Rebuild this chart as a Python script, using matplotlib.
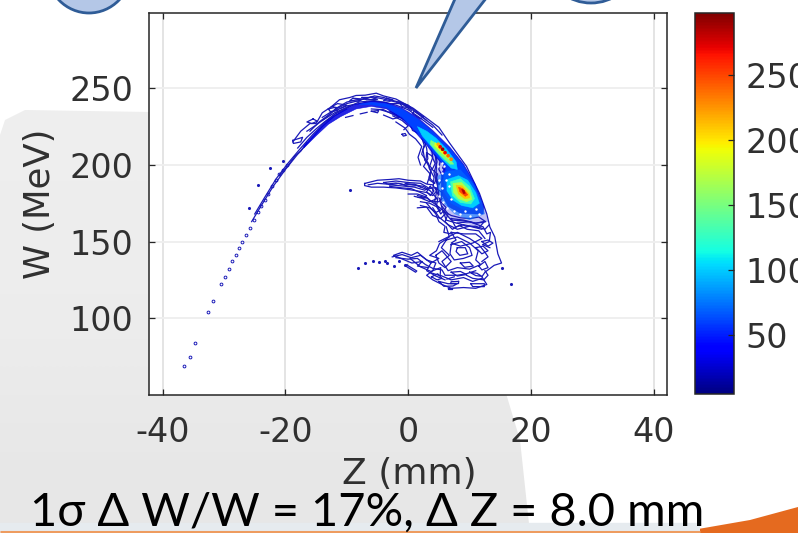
#!/usr/bin/env python3
# -*- coding: utf-8 -*-
import matplotlib
matplotlib.use('Agg')
import numpy as np
import matplotlib.pyplot as plt
from matplotlib.patches import Ellipse, Polygon
from matplotlib.colors import Normalize
from matplotlib.cm import ScalarMappable

W_PX, H_PX = 798, 533
C_MIN, C_MAX = 5, 298

x_ticks = [-40, -20, 0, 20, 40]
y_ticks = [100, 150, 200, 250]
c_ticks = [50, 100, 150, 200, 250]

# isolated particles
tail_z = [-36.5, -35.5, -34.7, -32.6, -31.8, -30.5, -29.9, -29.2, -28.7, -28.1, -27.6, -27.0,
          -26.4, -25.8, -25.1, -24.5, -24.0, -23.4, -22.8, -22.2, -21.6, -21.0, -20.4, -19.8]
tail_w = [69, 75, 84, 104, 111, 122, 127, 132, 137, 141, 146, 150,
          154, 159, 164, 169, 173, 177, 181, 186, 190, 194, 197, 200]
stray_z = [-9.4, 16.8, -8.2, -7.0, -5.7, -4.7, -3.7, -3.5, -2.3, -1.5, -0.5, -20.4, -22.5, -24.5, -26.0, 15.3]
stray_w = [183.5, 122.5, 133, 136, 137, 136.5, 137.5, 136, 134, 137, 134.5, 202.6, 198, 187, 172, 133]
ridge_dots_z = [4.9, 5.2, 5.6, 6.0, 6.5, 7.0]
ridge_dots_w = [213.5, 211.8, 210.2, 208, 206, 203.7]
ridge_dots_c = [220, 270, 290, 270, 240, 230]
speck_z = [5.5, 5.0, 5.5, 5.0, 5.7, 6.3, 7.5, 8.5, 10.0, 11.5, 4.8, 5.5, 6.2, 6.6, 7.0, 9.2, 11.0, 5.9, 6.7]
speck_w = [195, 190, 185, 180, 176, 172, 170, 168, 166.5, 168, 199, 201, 190, 186, 178, 170, 171, 199, 194]

# filled contours of the dense part: (level, outline)
halo_30 = [(2, 226), (4, 221), (6.8, 211), (9, 200.5), (10.9, 187.5), (12.5, 172), (13, 163), (11, 160), (8, 163),
           (6, 167), (5, 176), (4.6, 190), (4.3, 200), (3.6, 208), (2.5, 218)]
halo_75 = [(4.8, 193), (6.5, 196), (8.5, 197), (10.5, 188), (12, 176), (12.5, 168), (10, 164), (7.5, 168), (5.5, 176),
           (4.8, 185)]
band_30 = [(-17, 212.5), (-15, 221.5), (-13, 229.5), (-11, 234.5), (-8.5, 239.5), (-6, 241.5), (-3.5, 240.5),
           (-1, 237), (1.5, 231), (4, 222.5), (6.8, 211.5), (9, 200.5), (10.9, 187.5), (12.3, 173), (12.2, 168),
           (11, 168), (8.5, 168.5), (6.5, 173), (5.4, 181), (5.4, 194), (6, 199), (4.5, 205), (3, 213), (1, 222),
           (-1, 230), (-3.5, 236.5), (-6, 238.2), (-8.5, 236.5), (-11, 231.5), (-13, 226.5), (-15, 219), (-17, 211)]
band_60 = [(-8, 239.5), (-6, 240.8), (-3.5, 239.8), (-1, 236.3), (1.5, 230), (4, 221.5), (6.8, 210.5), (9, 199.5),
           (10.9, 186), (11.8, 176), (11, 171), (9, 171), (7, 175), (5.9, 182), (5.8, 192), (6.2, 198), (5, 204),
           (3.4, 212), (1.3, 222), (-1, 231), (-3.5, 237.5), (-6, 239.3)]
band_100 = [(1.5, 225), (3, 222), (4.5, 217.5), (6.2, 210.5), (7.8, 202), (8, 197), (7, 198), (5.5, 204),
            (3.8, 212), (2.3, 219)]
blob_100 = [(6.3, 190.5), (8.2, 193), (9.7, 190), (11, 182), (11.6, 175), (10.5, 172), (8.7, 173.5), (7.3, 177),
            (6.3, 183)]
blob_130 = [(6.9, 189), (8.5, 191), (10, 186), (10.8, 178), (10.2, 174.5), (8.5, 175.5), (7.2, 180)]
blob_170 = [(7.3, 188), (8.7, 188.5), (10, 183), (10.4, 177.5), (9.5, 176), (8.2, 178), (7.4, 182)]
blob_210 = [(7.8, 186.8), (8.8, 186.3), (9.9, 181), (10, 178.5), (9.2, 178), (8.2, 181)]
blob_250 = [(8.2, 185.5), (8.9, 184.5), (9.7, 180.5), (9.3, 179.5), (8.4, 182.5)]
blob_285 = [(8.7, 184), (9.1, 183.5), (9.3, 181.5), (9.0, 181.3)]
ridge_150 = [(3.7, 216), (5, 213), (6.5, 206), (7.4, 200.5), (6.8, 200.5), (5, 207), (3.6, 213.5)]
ridge_190 = [(4.4, 214.5), (5.3, 211.5), (6.6, 205), (6.9, 203), (5.4, 208), (4.3, 212.5)]

# thin low level contours, open or closed wiggly lines
arc_upper = [(-18.8, 215), (-17.5, 222), (-16, 227), (-15, 227), (-14, 234), (-12.5, 238), (-11.2, 242.5),
             (-9.5, 244), (-8.5, 245.3), (-7, 245.5), (-5.2, 246.8), (-4, 245), (-2, 243), (0.8, 237),
             (3, 230.5), (5, 224.5), (6.7, 214.5), (9.5, 199), (11.6, 181.5), (12.8, 168), (13.3, 159.5),
             (14.1, 153), (14.6, 142), (15.2, 136), (14, 134.5), (12.5, 130), (12, 127), (12.8, 122),
             (11, 119.5), (9, 120), (7, 119.5), (5.5, 122), (4, 125), (3, 128), (4, 131), (4.5, 136),
             (3, 138), (1.5, 143), (0.5, 141), (-1, 143), (-2.4, 141), (-1.2, 139), (0.6, 136), (2.3, 137),
             (1.5, 134), (3.3, 133)]
arc_inner1 = [(-16.5, 222), (-15, 226), (-13, 232), (-12, 236), (-10, 240), (-8, 242), (-6, 244.5), (-4, 243),
              (-2, 241), (0, 238), (2, 232), (4, 226), (5.5, 219.5)]
arc_inner2 = [(-14, 229), (-12, 234), (-10, 237.5), (-8, 241), (-5.5, 242), (-3, 240), (-1, 240), (0.5, 235.5)]
arc_inner3 = [(-12.5, 238), (-11.5, 240), (-10, 239), (-11, 237), (-12.5, 238)]
arc_inner4 = [(-7.5, 244), (-6, 244), (-5, 242.8), (-6.8, 242.5), (-7.5, 244)]
arc_inner5 = [(-15.5, 230), (-14.8, 228.5), (-15.7, 227), (-16.5, 228), (-15.5, 230)]
arc_inner6 = [(-18.8, 216), (-17.2, 218), (-17.5, 215), (-18.7, 214), (-18.8, 216)]
arc_inner7 = [(-9, 243.5), (-7.5, 243), (-8, 241.5), (-9.5, 242), (-9, 243.5)]
arc_inner8 = [(-3.5, 243.5), (-2.5, 242.5), (-3, 241.5), (-4, 242), (-3.5, 243.5)]
up_1 = [(-14, 231), (-12.8, 234), (-11.5, 236), (-10, 238.5), (-8, 240), (-6, 241.5), (-4, 241), (-2, 239), (0, 236),
        (2, 230.5), (4, 224.5)]
up_2 = [(-16, 222), (-14.5, 228), (-13, 232.5), (-11.5, 237.5), (-10, 241), (-8.5, 242.5), (-7, 243), (-5.5, 245),
        (-4, 244), (-2.5, 242), (-1, 240.5), (1, 236), (3, 229)]
up_3 = [(-18, 211), (-16.5, 218), (-15, 223.5), (-13.5, 228.5), (-12, 233), (-10.5, 236), (-9, 239)]
up_4 = [(-21, 193), (-19.5, 200), (-18.5, 205.5), (-17.5, 209), (-16.5, 214.5)]
up_5 = [(-13, 236.5), (-12, 237.5), (-11.5, 235.5), (-12.7, 234.8), (-13, 236.5)]
up_6 = [(-1.5, 241), (0, 239), (0.5, 237), (-1, 238), (-1.5, 241)]
up_7 = [(1, 235), (2.5, 231.5), (2, 230), (0.7, 233.5), (1, 235)]
ribbon_low = [(-25.5, 163), (-24, 173), (-22, 186), (-20, 197), (-18, 207), (-16, 216), (-14, 225), (-12, 232),
              (-10, 236.5)]
ribbon_up = [(-25, 168), (-23.5, 178), (-21.5, 191), (-19.5, 201.5), (-17.5, 211), (-15.5, 220), (-13.5, 228),
             (-11.5, 234.5), (-9.5, 238.5)]
arc_under1 = [(-10.2, 231), (-9, 232.2)]
arc_under2 = [(-7.8, 233.3), (-6.7, 234.3)]
arc_under3 = [(-6, 235), (-4.8, 235.5), (-5, 234), (-6, 235)]
arc_under4 = [(-4.5, 236), (-2.5, 233.5), (-0.5, 229), (0.5, 226), (1.8, 222), (2.4, 218), (3, 211), (3.2, 204),
              (2.5, 199), (3.6, 194), (3.1, 188)]
arc_under5 = [(-3, 235), (-1, 231), (0.3, 227), (0.7, 222.5), (2, 220), (2.6, 213), (2.2, 207), (3.3, 201)]
arc_under6 = [(0, 232), (1.2, 226), (2.5, 224), (3, 218), (3.7, 213), (4, 205), (3.4, 198), (4.2, 192), (4, 183)]
arc_under7 = [(2.2, 226), (3.6, 218), (4.3, 210), (4.7, 202), (4.2, 195), (4.8, 186), (4.3, 176), (5.2, 170)]
arc_under8 = [(-6, 236.5), (-4, 236), (-3, 234), (-1.5, 231), (-2.5, 230), (-4, 232.5)]
arc_under9 = [(-2.5, 232), (-1, 229), (0, 225.5), (-0.7, 223)]
arc_under10 = [(0.8, 229), (2, 224), (3.2, 220), (3.3, 215), (3.8, 210)]
arc_under11 = [(3, 215), (2.4, 210), (2.7, 203), (3.8, 198), (3.4, 192), (4.3, 188)]

spk_1 = [(3, 208), (3.8, 206), (4.4, 201), (3.9, 197), (4.8, 194), (4.3, 188), (3.5, 190), (3.7, 196), (2.9, 203),
         (3, 208)]
spk_2 = [(4.4, 207), (5.2, 203), (5, 197), (5.7, 192), (5, 187), (4.5, 192), (4.6, 199), (4.4, 207)]
spk_3 = [(4.5, 185), (5.5, 182), (5.3, 176), (6.2, 172), (5.3, 168), (4.6, 173), (4.9, 180), (4.5, 185)]
spk_4 = [(5.7, 170), (7, 167), (8.5, 165.5), (10, 165), (11.5, 166), (12.6, 163), (11, 162), (9, 163.5), (7, 164),
         (5.7, 170)]
spk_5 = [(6, 201), (6.6, 198.5), (6.2, 196), (5.6, 198), (6, 201)]
spk_6 = [(3.6, 186), (4.2, 183), (3.6, 180), (3, 182.5), (3.6, 186)]
spk_7 = [(2, 200), (1.6, 205), (2.2, 212), (1.2, 217), (0.2, 220), (-0.5, 224), (-2, 228)]
spk_8 = [(-1, 220), (-0.5, 220.5), (-0.3, 219.3), (-0.8, 218.8), (-1, 220)]

wing_outer = [(-7.1, 187.9), (-5, 190), (-3, 190.5), (-1.5, 191), (0, 190), (2, 189.5), (3, 187.5), (4, 187),
              (4.6, 183), (4, 180), (3, 182), (1.5, 183), (0, 184), (-2, 185), (-4, 185.5), (-6, 185.5),
              (-7.1, 186.5), (-7.1, 187.9)]
wing_in1 = [(-4, 188.5), (-2, 189.5), (0, 188.5), (2, 188), (3.3, 185), (2.7, 183.5), (1, 185.5), (-1, 186.3),
            (-3, 187), (-4, 188.5)]
wing_in2 = [(-0.5, 188), (1, 187), (2.5, 186), (3.6, 183), (4.7, 178), (3.5, 176), (2.3, 178)]
wing_in3 = [(1.5, 180), (3, 178.5), (4.5, 174), (5.5, 171), (4.5, 169), (3.5, 172), (2, 173.5)]
wing_in4 = [(1.5, 172), (3, 172.5), (4, 167), (5.3, 165), (6, 168)]
wing_in5 = [(-3, 187), (-1.5, 188), (0, 186), (1.5, 186.5), (3, 184), (4, 185)]
wing_in6 = [(-6.5, 187), (-5, 188), (-3.5, 187.5), (-2, 188.2), (-0.5, 187), (1, 187.5), (2, 185.5)]
wing_in7 = [(-3, 186), (-1, 185), (0.5, 184.5), (2, 182), (3, 180), (2.5, 178), (1, 179.5)]
wing_in8 = [(0, 181), (1.5, 181), (3, 179), (3.8, 176), (5, 176), (5.5, 178)]
wing_in9 = [(2, 176), (3.5, 175), (5, 172)]
wing_dash = [(1.6, 178.8), (2.9, 178.5)]
neck_1 = [(4.6, 194), (5, 180), (5.5, 172), (6.2, 164), (7.9, 162), (10, 163), (12.2, 159.6), (12.8, 155),
          (13.4, 156), (13.2, 150), (12.1, 148), (13.3, 146)]
neck_2 = [(6.2, 159.6), (6.7, 153), (5.1, 148.7), (4.6, 144), (3.5, 141), (5, 139), (3.7, 136)]
neck_3 = [(5.5, 173), (6.5, 168), (6, 163), (7.2, 158), (8.3, 160.5), (9.6, 158), (11.5, 157), (12.5, 152)]
neck_4 = [(7, 165), (9, 164), (11, 162), (12.4, 163), (11.5, 159), (9, 161), (7.7, 159.5), (7, 165)]
neck_5 = [(7, 156), (7.8, 151), (7, 149), (8.5, 147), (10.5, 149), (12, 152), (11, 155), (9, 155), (7, 156)]
neck_6 = [(3, 175), (4.5, 168), (5, 163), (6, 160), (5.8, 156), (7, 155)]
neck_7 = [(4, 172), (5, 166), (6.5, 161), (8, 158), (10, 160), (12, 158)]
neck_8 = [(8, 162), (9.5, 160), (11, 160), (12.5, 158), (13.2, 161)]
knot_1 = [(6.2, 151), (8, 153), (10, 149), (11.4, 144), (11, 138), (11.8, 135), (10, 132), (8, 133), (6.5, 131),
          (5.5, 137), (6.7, 141), (5.4, 146), (6.2, 151)]
knot_2 = [(7, 148), (8.7, 150), (10, 146), (10.4, 141), (9, 139), (7.5, 138), (6.8, 142), (7, 148)]
knot_3 = [(8, 146), (9.3, 146), (9.7, 142), (8.4, 141), (7.8, 143.5), (8, 146)]
knot_4 = [(8.5, 136), (10, 136.5), (10.6, 134), (9.2, 133.2), (8.5, 136)]
knot_5 = [(5, 150), (6.5, 153), (8, 156), (10, 152), (11.5, 148), (12.5, 143), (13, 140), (12, 137)]
knot_6 = [(4.5, 141), (5.5, 144), (7, 137), (6, 133), (5, 136), (4.5, 141)]
knot_7 = [(11.5, 134), (12.5, 137), (13, 133), (12, 131.5), (11.5, 134)]
knot_8 = [(11, 146), (12.2, 147), (13, 144), (12, 142), (11, 146)]
knot_9 = [(12, 150), (13, 151), (13.8, 149), (13, 147), (12, 150)]
low_1 = [(0.3, 139), (2, 133.5), (3.7, 130.5), (5.3, 133), (5.2, 128), (7, 125), (9, 126.5), (10.5, 124), (12, 126)]
low_2 = [(5, 124), (6.5, 122.5), (8, 122.5), (7.3, 121), (5.8, 120.8), (5, 124)]
low_3 = [(8.2, 124), (7, 123.8), (6.9, 122.6), (8.2, 122.6), (8.2, 124)]
low_4 = [(-0.2, 134.7), (1.4, 130.8), (1.2, 130), (-0.4, 134), (-0.2, 134.7)]
low_5 = [(10, 130), (11.2, 129.3), (12, 127.3), (11, 127.8), (10, 130)]
low_6 = [(3.8, 127), (4.8, 129), (5.5, 126), (4.7, 125), (3.8, 127)]
low_7 = [(10.2, 122.5), (12.4, 122.5), (12.4, 120.6), (10.5, 120.6), (10.2, 122.5)]
low_8 = [(6.4, 120), (7.2, 120), (7.2, 119), (6.4, 119), (6.4, 120)]
low_9 = [(-2.6, 140), (-1, 141.5), (0.5, 139.5), (2, 141), (3.7, 136), (3, 131), (4.5, 127.5), (6, 125)]
low_10 = [(-2, 139.5), (0, 138.5), (1.5, 139), (2.8, 135), (4, 132.5), (5.5, 131.5), (6, 128), (8, 128), (9.5, 129),
          (11, 131)]
low_11 = [(9.5, 128), (10.5, 126), (12.3, 125), (13, 128), (12.5, 131)]
low_12 = [(7, 130), (8.5, 130.5), (9.5, 128.5), (8, 127.5), (7, 130)]
low_13 = [(5, 128), (3.8, 129.5)]
low_14 = [(7.5, 127), (6.3, 125.5)]

filled = [(30, band_30), (60, band_60), (100, band_100), (100, blob_100), (130, blob_130), (170, blob_170),
          (210, blob_210), (250, blob_250), (285, blob_285), (150, ridge_150), (190, ridge_190)]
thin = [arc_upper, arc_inner1, arc_inner2, arc_inner3, arc_inner4, arc_inner5, arc_inner6, arc_inner7, arc_inner8,
        up_1, up_2, up_3, up_4, up_5, up_6, up_7, ribbon_low, ribbon_up, arc_under1, arc_under2, arc_under3,
        arc_under4, arc_under5, arc_under6, arc_under7, arc_under8, arc_under9, arc_under10, arc_under11,
        spk_1, spk_2, spk_3, spk_4, spk_5, spk_6, spk_7, spk_8, wing_outer, wing_in1, wing_in2, wing_in3, wing_in4,
        wing_in5, wing_in6, wing_in7, wing_in8, wing_in9, wing_dash, neck_1, neck_2, neck_3, neck_4, neck_5, neck_6,
        neck_7, neck_8, knot_1, knot_2, knot_3, knot_4, knot_5, knot_6, knot_7, knot_8, knot_9, low_1, low_2, low_3,
        low_4, low_5, low_6, low_7, low_8, low_9, low_10, low_11, low_12, low_13, low_14]

# slide decoration in pixels of the picture
grey_panel = [(0, 533), (0, 135), (5, 120), (25, 110), (150, 112), (300, 112), (505, 390), (520, 440), (530, 533)]
orange_corner = [(672, 533), (704, 528), (750, 520), (798, 507), (798, 533)]
callout = [(416, 88), (458, -8), (491, -8)]

plt.rcParams['font.family'] = ['DejaVu Sans']
plt.rcParams['axes.unicode_minus'] = False
text_col = '#303030'
line_col = '#1a1ab8'
norm = Normalize(C_MIN, C_MAX)
cmap = plt.get_cmap('jet')

fig = plt.figure(figsize=(W_PX / 100, H_PX / 100), dpi=100, facecolor='white')


def px_axes(zorder):
    ax = fig.add_axes([0, 0, 1, 1], zorder=zorder)
    ax.set_xlim(0, W_PX)
    ax.set_ylim(H_PX, 0)
    ax.axis('off')
    return ax


back = px_axes(0)
panel = Polygon(grey_panel, closed=True, fc='none', ec='none')
back.add_patch(panel)
shade = back.imshow(np.array([[0.93], [0.925], [0.905]]), cmap='gray', vmin=0, vmax=1, extent=(0, W_PX, H_PX, 100),
                    aspect='auto', interpolation='bilinear')
shade.set_clip_path(panel)
back.set_xlim(0, W_PX)
back.set_ylim(H_PX, 0)
back.plot([0, 700], [527, 527], color='#e6ebef', lw=6, solid_capstyle='butt')
back.plot([0, 700], [532, 532], color='#ee9c60', lw=2.2, solid_capstyle='butt')
back.add_patch(Polygon(orange_corner, closed=True, fc='#e56a1f', ec='none'))

ax = fig.add_axes([148.5 / W_PX, 1 - 395.3 / H_PX, 518.8 / W_PX, 382.6 / H_PX], zorder=1)
ax.set_xlim(-42.3, 42.2)
ax.set_ylim(49.7, 299.3)
ax.set_xticks(x_ticks)
ax.set_yticks(y_ticks)
ax.grid(True, axis='x', color='#e2e2e2', lw=1.3)
ax.grid(True, axis='y', color='#eeeeee', lw=1.3)
ax.set_axisbelow(True)
ax.tick_params(direction='in', length=4, width=0.9, top=True, right=True, color='#262626',
               labelsize=24, labelcolor=text_col)
ax.tick_params(axis='x', pad=15)
ax.tick_params(axis='y', pad=11)
for s in ax.spines.values():
    s.set_color('#262626')
    s.set_linewidth(1.1)

zs, ws = zip(*halo_30)
ax.fill(zs, ws, color=cmap(norm(30)), alpha=0.25, lw=0, zorder=2)
for line in thin:
    zs, ws = zip(*line)
    ax.plot(zs, ws, color=line_col, lw=0.9, zorder=2.5)
for level, outline in filled:
    zs, ws = zip(*outline)
    ax.fill(zs, ws, color=cmap(norm(level)), lw=0.4, alpha=0.85 if level == 30 else 1, zorder=3)
zs, ws = zip(*halo_75)
ax.fill(zs, ws, color=cmap(norm(75)), alpha=0.55, lw=0, zorder=3.1)
zs, ws = zip(*blob_100)
ax.fill(zs, ws, color=cmap(norm(100)), lw=0, zorder=3.2)
for level, outline in [(130, blob_130), (170, blob_170), (210, blob_210), (250, blob_250), (285, blob_285)]:
    zs, ws = zip(*outline)
    ax.fill(zs, ws, color=cmap(norm(level)), lw=0.4, zorder=3.3)
ax.scatter(speck_z, speck_w, s=3, color='white', lw=0, zorder=3.25)
ax.scatter(ridge_dots_z, ridge_dots_w, c=ridge_dots_c, s=7, cmap=cmap, norm=norm, lw=0, zorder=4)
ax.scatter(tail_z, tail_w, s=4, facecolors='white', edgecolors=line_col, lw=0.7, zorder=2)
ax.scatter(stray_z, stray_w, s=5, color=line_col, lw=0, zorder=2)

cax = fig.add_axes([695.3 / W_PX, 1 - 394 / H_PX, 39 / W_PX, 381.3 / H_PX], zorder=1)
cb = fig.colorbar(ScalarMappable(norm=norm, cmap=cmap), cax=cax, ticks=c_ticks)
cb.ax.tick_params(direction='in', length=4, width=0.9, color='#262626', labelsize=24,
                  labelcolor=text_col, pad=8)
cb.outline.set_edgecolor('#262626')
cb.outline.set_linewidth(1.1)

top = px_axes(2)
top.add_patch(Ellipse((89, -30), 84, 86, fc='#b4c7e7', ec='#2f5c97', lw=2, clip_on=True))
top.add_patch(Ellipse((591, -30), 80, 66, fc='#b4c7e7', ec='#2f5c97', lw=2, clip_on=True))
top.add_patch(Polygon(callout, closed=True, fc='#b4c7e7', ec='#2f5c97', lw=2, joinstyle='miter'))
top.text(409, 474, 'Z (mm)', ha='center', va='center', fontsize=26, color=text_col)
top.text(40, 204, 'W (MeV)', ha='center', va='center', rotation=90, fontsize=25.5, color=text_col)
top.text(30, 513, '1σ Δ W/W = 17%, Δ Z = 8.0 mm', ha='left', va='center', fontsize=33.8,
         family=['Lato', 'DejaVu Sans'], color='black')

fig.savefig('out.png', dpi=100)
